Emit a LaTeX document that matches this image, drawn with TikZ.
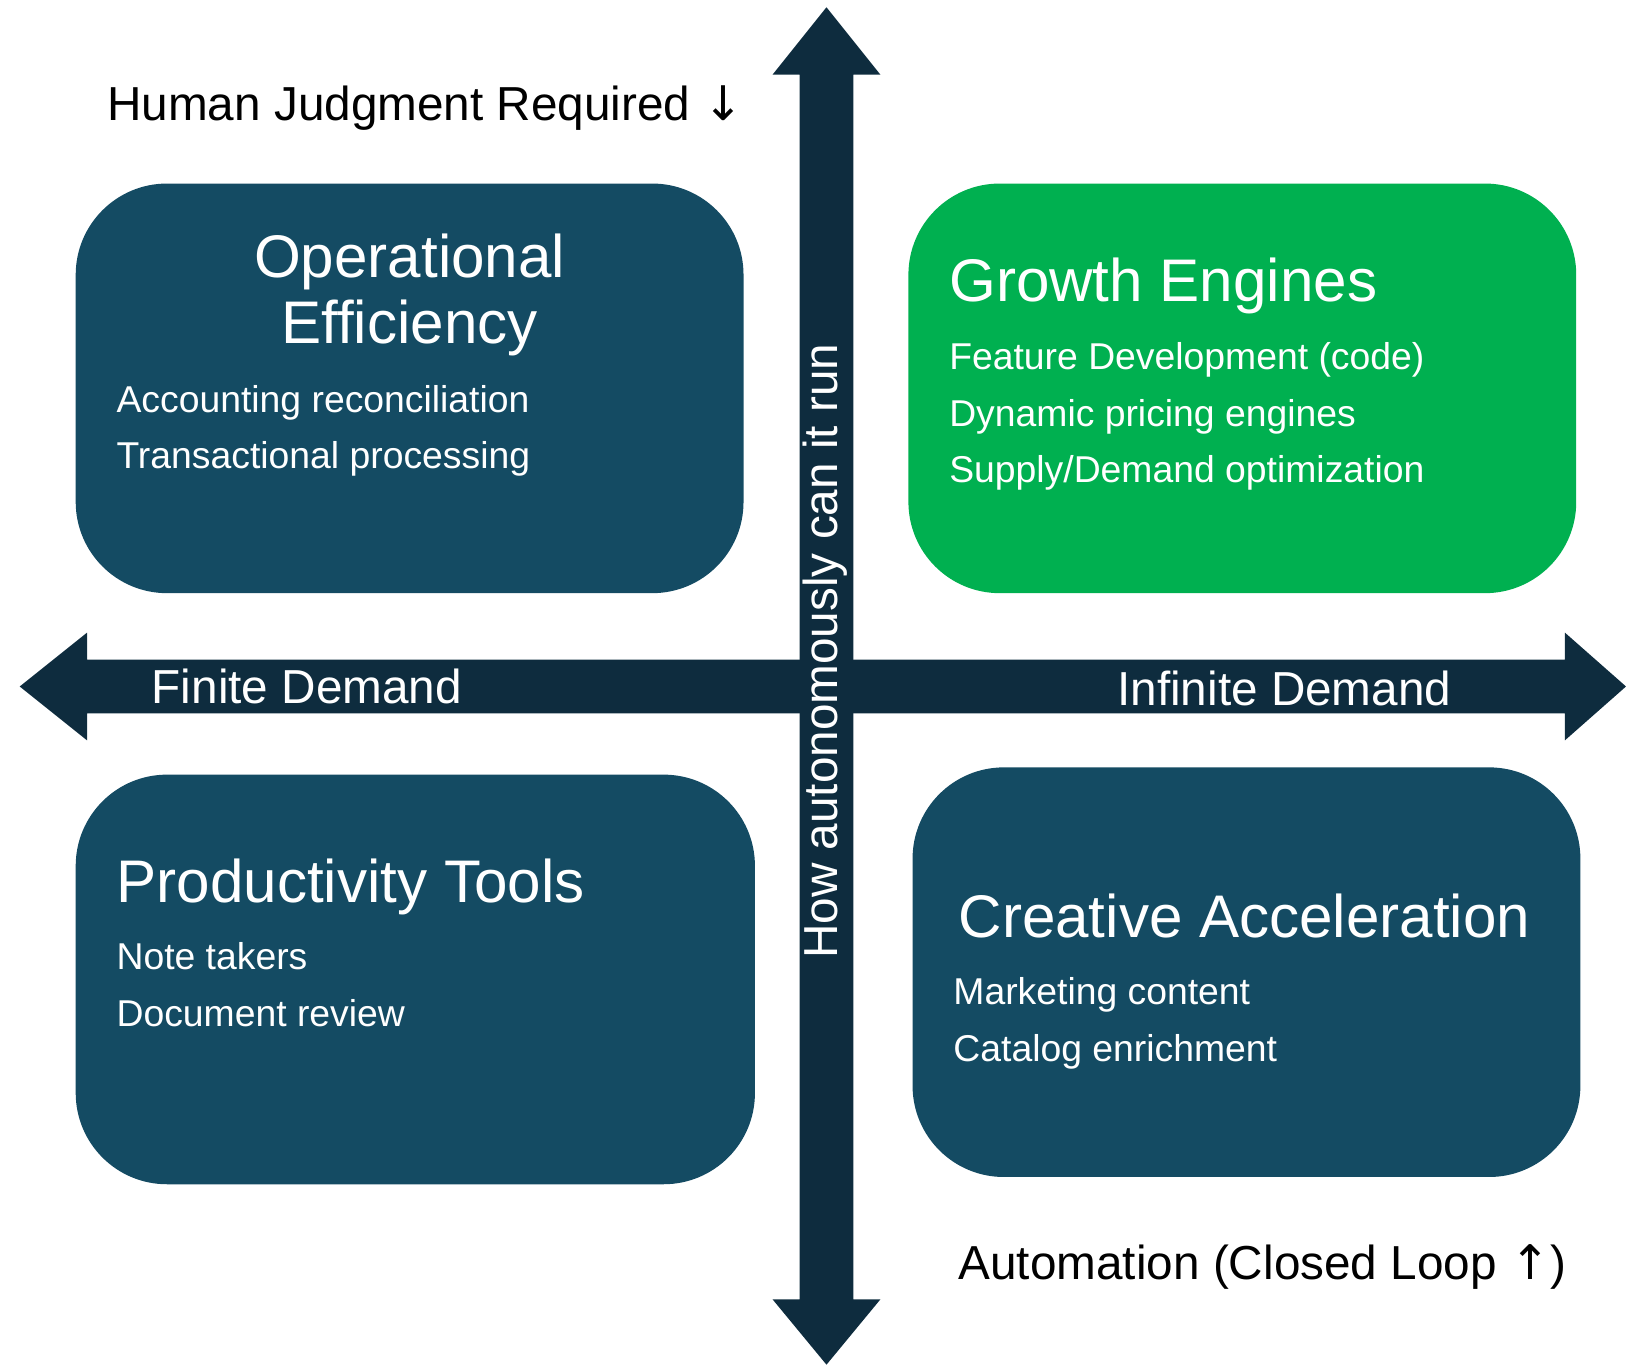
\documentclass[tikz,border=0pt]{standalone}
\usepackage{fontspec}
\setmainfont{Liberation Sans}
\newfontfamily\arrowfont{DejaVu Sans}
\usetikzlibrary{positioning}
\definecolor{quadblue}{HTML}{144B63}
\definecolor{quadgreen}{HTML}{00B050}
\definecolor{axisnavy}{HTML}{0E2C3E}

\begin{document}
\begin{tikzpicture}[x=0.5pt, y=-0.5pt,
  quad/.style={rounded corners=44pt},
  title/.style={font=\fontsize{29}{34}\selectfont, text=white, anchor=base west, inner sep=0pt},
  item/.style={font=\fontsize{18}{22}\selectfont, text=white, anchor=base west, inner sep=0pt},
  axislabel/.style={font=\fontsize{23}{28}\selectfont, anchor=base west, inner sep=0pt}]
\useasboundingbox (0,0) rectangle (1568,1316);
% quadrants
\fill[quadblue, quad] (73,177) rectangle (717,572);
\fill[quadgreen, quad] (876,177) rectangle (1520,572);
\fill[quadblue, quad] (73,747) rectangle (728,1142);
\fill[quadblue, quad] (880,740) rectangle (1524,1135);
% axes
\fill[axisnavy] (771,72) -- (745,72) -- (797,7) -- (849,72) -- (823,72) -- (823,1253)
  -- (849,1253) -- (797,1316) -- (745,1253) -- (771,1253) -- cycle;
\fill[axisnavy] (84,636) -- (84,610) -- (19,662) -- (84,714) -- (84,688) -- (1509,688)
  -- (1509,714) -- (1568,662) -- (1509,610) -- (1509,636) -- cycle;
% axis labels
\node[axislabel] (human) at (103,116) {Human Judgment Required {\arrowfont ↓}};
\node[axislabel] (auto) at (924,1234) {Automation (Closed Loop {\arrowfont ↑})};
\node[axislabel, text=white] (finite) at (146,678) {Finite Demand};
\node[axislabel, text=white] (infinite) at (1077,680) {Infinite Demand};
\node[axislabel, text=white, rotate=90] (howauto) at (808,925) {How autonomously can it run};
% top left
\node[title, anchor=base] (opeff) at (395,268) {Operational};
\node[title, anchor=base] (opeff2) at (395,331) {Efficiency};
\node[item] (acc) at (112,398) {Accounting reconciliation};
\node[item] (trans) at (112,452) {Transactional processing};
% top right
\node[title] (growth) at (915,291) {Growth Engines};
\node[item] (feat) at (915,356) {Feature Development (code)};
\node[item] (pricing) at (915,411) {Dynamic pricing engines};
\node[item] (supply) at (915,465) {Supply/Demand optimization};
% bottom left
\node[title] (prod) at (112,870) {Productivity Tools};
\node[item] (notes) at (112,935) {Note takers};
\node[item] (docs) at (112,990) {Document review};
% bottom right
\node[title] (creative) at (924,904) {Creative Acceleration};
\node[item] (mkt) at (919,969) {Marketing content};
\node[item] (catalog) at (919,1024) {Catalog enrichment};
\end{tikzpicture}
\end{document}
